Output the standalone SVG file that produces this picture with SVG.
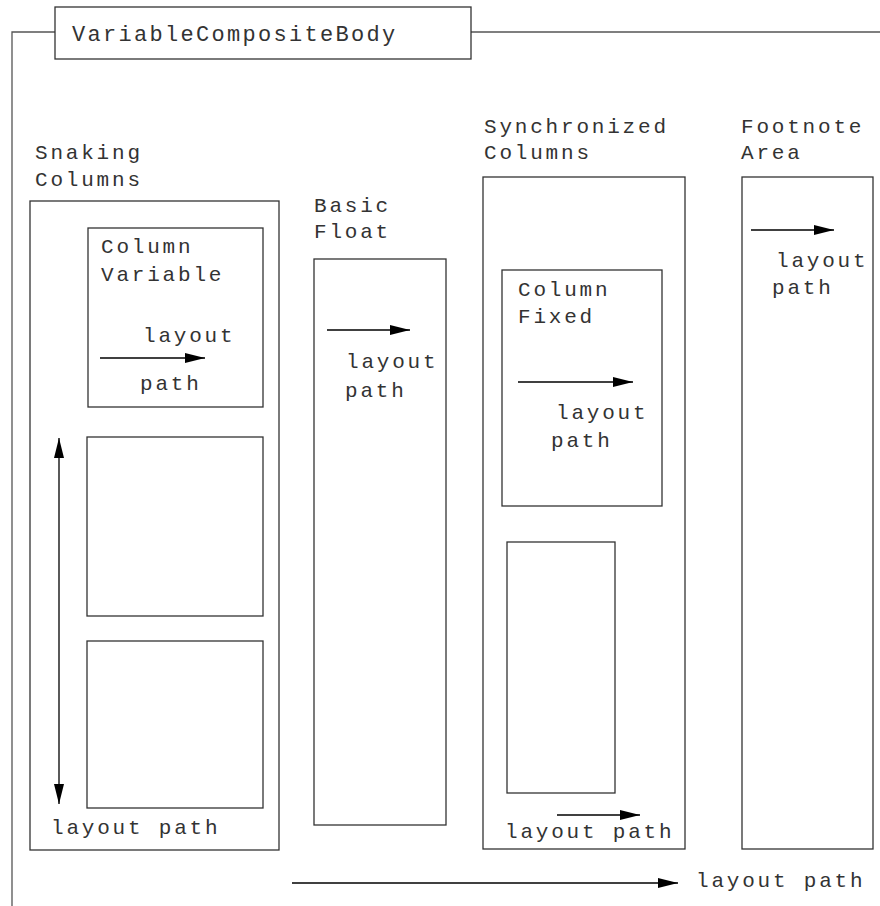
<svg xmlns="http://www.w3.org/2000/svg" width="880" height="906" viewBox="0 0 880 906">
<defs>
<marker id="ah" markerWidth="20" markerHeight="10" refX="20" refY="5" orient="auto" markerUnits="userSpaceOnUse">
<path d="M0,0 L20,5 L0,10 Z" fill="#000"/>
</marker>
<marker id="ahs" markerWidth="20" markerHeight="10" refX="0" refY="5" orient="auto" markerUnits="userSpaceOnUse">
<path d="M20,0 L0,5 L20,10 Z" fill="#000"/>
</marker>
</defs>
<style>
text{font-family:"Liberation Mono","DejaVu Sans Mono",monospace;font-size:21px;letter-spacing:2.8px;fill:#333}
.box{fill:none;stroke:#333;stroke-width:1.3}
.frame{fill:none;stroke:#555;stroke-width:1.3}
.arr{stroke:#000;stroke-width:1.3;fill:none}
</style>
<rect width="880" height="906" fill="#fff"/>
<g id="frame">
<polyline class="frame" points="12,906 12,32 55,32"/>
<line class="frame" x1="471" y1="32" x2="880" y2="32"/>
</g>
<g id="title">
<rect class="box" x="55" y="7" width="416" height="52"/>
<text x="72" y="41" style="font-size:22px;letter-spacing:2.3px">VariableCompositeBody</text>
</g>
<g id="snaking">
<text x="35" y="159">Snaking</text>
<text x="35" y="186">Columns</text>
<rect class="box" x="30" y="201" width="249" height="649"/>
<text x="51" y="834">layout path</text>
</g>
<g id="columnVariable">
<rect class="box" x="88" y="228" width="175" height="179"/>
<text x="101" y="253">Column</text>
<text x="101" y="281">Variable</text>
<text x="143" y="342">layout</text>
<text x="140" y="390">path</text>
</g>
<g id="column2"><rect class="box" x="87" y="437" width="176" height="179"/></g>
<g id="column3"><rect class="box" x="87" y="641" width="176" height="167"/></g>
<g id="basicFloat">
<text x="314" y="212">Basic</text>
<text x="314" y="238">Float</text>
<rect class="box" x="314" y="259" width="132" height="566"/>
<text x="346" y="368">layout</text>
<text x="345" y="397">path</text>
</g>
<g id="synchronized">
<text x="484" y="133">Synchronized</text>
<text x="484" y="159">Columns</text>
<rect class="box" x="483" y="177" width="202" height="672"/>
<text x="505" y="838">layout path</text>
</g>
<g id="columnFixed">
<rect class="box" x="502" y="270" width="160" height="236"/>
<text x="518" y="296">Column</text>
<text x="518" y="323">Fixed</text>
<text x="556" y="419">layout</text>
<text x="551" y="447">path</text>
</g>
<g id="columnFixed2"><rect class="box" x="507" y="542" width="108" height="251"/></g>
<g id="footnote">
<text x="741" y="133">Footnote</text>
<text x="741" y="159">Area</text>
<rect class="box" x="742" y="177" width="131" height="672"/>
<text x="776" y="267">layout</text>
<text x="772" y="294">path</text>
</g>
<g id="bottomLabel"><text x="696" y="887">layout path</text></g>
<g id="connectors">
<line class="arr" x1="59" y1="438" x2="59" y2="804" marker-start="url(#ahs)" marker-end="url(#ah)"/>
<line class="arr" x1="100" y1="358" x2="205" y2="358" marker-end="url(#ah)"/>
<line class="arr" x1="327" y1="330" x2="410" y2="330" marker-end="url(#ah)"/>
<line class="arr" x1="518" y1="382" x2="633" y2="382" marker-end="url(#ah)"/>
<line class="arr" x1="557" y1="815" x2="640" y2="815" marker-end="url(#ah)"/>
<line class="arr" x1="751" y1="230" x2="834" y2="230" marker-end="url(#ah)"/>
<line class="arr" x1="292" y1="883" x2="678" y2="883" marker-end="url(#ah)"/>
</g>
</svg>
